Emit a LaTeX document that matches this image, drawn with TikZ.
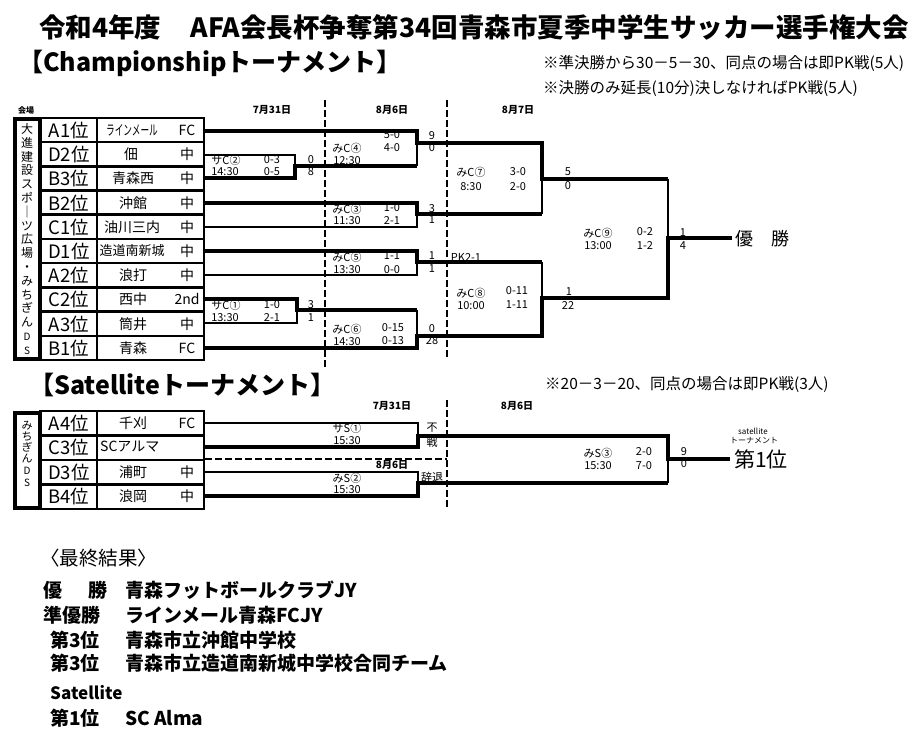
\documentclass[tikz,border=0pt]{standalone}
\usepackage{graphicx,xcolor}
\usepackage{fontspec}
\setmainfont{Noto Sans CJK JP}
\newcommand{\fsz}[1]{\fontsize{#1}{#1}\selectfont}
\tikzset{
  win/.style={line width=3.8pt},
  lose/.style={line width=1.8pt},
  grid/.style={line width=2.6pt},
  venue/.style={line width=4pt},
  dayline/.style={line width=1.3pt,dash pattern=on 7pt off 3pt},
  rank/.style={font=\fsz{18.5},inner sep=0pt},
  team/.style={font=\fsz{14},inner sep=0pt},
  game/.style={font=\fsz{11},inner sep=0pt},
  day/.style={font=\bfseries\fsz{10},inner sep=0pt},
  result/.style={font=\bfseries\fsz{19},inner sep=0pt,anchor=west},
}
\begin{document}
\begin{tikzpicture}[x=1pt,y=-1pt]
\useasboundingbox (0,0) rectangle (919,738);
% headings
\node (title) at (474,27) {\bfseries\fsz{26.5}令和4年度\hspace{1.1em}AFA会長杯争奪第34回青森市夏季中学生サッカー選手権大会};
\node [anchor=west,inner sep=0pt] (champhead) at (18,63) {\bfseries\fsz{25}【Championshipトーナメント】};
\node [anchor=west,inner sep=0pt] (note1) at (543,63) {\fsz{15.5}※準決勝から30－5－30、同点の場合は即PK戦(5人)};
\node [anchor=west,inner sep=0pt] (note2) at (543,89) {\fsz{15.5}※決勝のみ延長(10分)決しなければPK戦(5人)};
\node [day] (kaijo) at (26,110) {\fsz{8}会場};
\node [day] (d731) at (272,110) {7月31日};
\node [day] (d86) at (392,110) {8月6日};
\node [day] (d87) at (518,110) {8月7日};
\draw [dayline] (325,100) -- (325,367);
\draw [dayline] (447,100) -- (447,360);
% championship table
\draw [venue] (15,119.5) rectangle (40,359);
\node [align=center,font=\fsz{12},inner sep=0pt] (venue1) at (27,239) {大\\[1.8pt]進\\[1.8pt]建\\[1.8pt]設\\[1.8pt]ス\\[1.8pt]ポ\\[1.8pt]｜\\[1.8pt]ツ\\[1.8pt]広\\[1.8pt]場\\[1.8pt]・\\[1.8pt]み\\[1.8pt]ち\\[1.8pt]ぎ\\[1.8pt]ん\\[1.8pt]{\fsz{10}D}\\[1.8pt]{\fsz{10}S}};
\draw [grid] (40,118) rectangle (204,360);
\draw [grid] (97,118) -- (97,360);
\foreach \k in {1,...,9} \draw [grid] (40,{118+24.2*\k}) -- (204,{118+24.2*\k});
\node [rank] (ra1) at (69,130) {A1位};
\node [rank] (rd2) at (69,154) {D2位};
\node [rank] (rb3) at (69,178) {B3位};
\node [rank] (rb2) at (69,203) {B2位};
\node [rank] (rc1) at (69,227) {C1位};
\node [rank] (rd1) at (69,251) {D1位};
\node [rank] (ra2) at (69,275) {A2位};
\node [rank] (rc2) at (69,299) {C2位};
\node [rank] (ra3) at (69,324) {A3位};
\node [rank] (rb1) at (69,348) {B1位};
\node [team] (ta1) at (132,130) {\scalebox{0.62}[1]{ラインメール}};
\node [team] (td2) at (131,154) {佃};
\node [team] (tb3) at (133,178) {青森西};
\node [team] (tb2) at (133,203) {沖館};
\node [team] (tc1) at (132,227) {油川三内};
\node [team] (td1) at (132,251) {\fsz{13}造道南新城};
\node [team] (ta2) at (133,275) {浪打};
\node [team] (tc2) at (133,299) {西中};
\node [team] (ta3) at (133,324) {筒井};
\node [team] (tb1) at (133,348) {青森};
\node [team] (ka1) at (187,130) {FC};
\node [team] (kd2) at (187,154) {中};
\node [team] (kb3) at (187,178) {中};
\node [team] (kb2) at (187,203) {中};
\node [team] (kc1) at (187,227) {中};
\node [team] (kd1) at (187,251) {中};
\node [team] (ka2) at (187,275) {中};
\node [team] (kc2) at (187,299) {2nd};
\node [team] (ka3) at (187,324) {中};
\node [team] (kb1) at (187,348) {FC};
% first round
\draw [lose] (204,155) -- (295,155) -- (295,166);
\draw [win] (204,178) -- (295,178) -- (295,166) -- (417,166);
\draw [win] (204,299) -- (297,299) -- (297,310) -- (417,310);
\draw [lose] (204,323) -- (297,323) -- (297,310);
\node [game] (sc2a) at (226,160) {サC②};
\node [game] (sc2b) at (225,172) {14:30};
\node [game] (sc2c) at (272,160) {0-3};
\node [game] (sc2d) at (272,172) {0-5};
\node [game] (sc2e) at (311,160) {0};
\node [game] (sc2f) at (311,172) {8};
\node [game] (sc1a) at (226,305) {サC①};
\node [game] (sc1b) at (225,318) {13:30};
\node [game] (sc1c) at (272,305) {1-0};
\node [game] (sc1d) at (272,318) {2-1};
\node [game] (sc1e) at (311,305) {3};
\node [game] (sc1f) at (311,318) {1};
% second round
\draw [win] (204,131) -- (417,131) -- (417,143) -- (542,143) -- (542,179) -- (668,179);
\draw [lose] (417,143) -- (417,166);
\draw [win] (204,203) -- (417,203) -- (417,214) -- (542,214);
\draw [lose] (204,227) -- (417,227) -- (417,214);
\draw [lose] (542,179) -- (542,214);
\draw [win] (204,251) -- (417,251) -- (417,262) -- (542,262);
\draw [lose] (204,275) -- (417,275) -- (417,262);
\draw [lose] (417,310) -- (417,336);
\draw [win] (204,348) -- (417,348) -- (417,336) -- (542,336) -- (542,298) -- (668,298) -- (668,238) -- (732,238);
\draw [lose] (542,262) -- (542,298);
\draw [lose] (668,179) -- (668,238);
\node [game] (mc4a) at (347,148) {みC④};
\node [game] (mc4b) at (347,161) {12:30};
\node [game] (mc4c) at (392,135) {5-0};
\node [game] (mc4d) at (392,148) {4-0};
\node [game] (mc4e) at (432,136) {9};
\node [game] (mc4f) at (432,148) {0};
\node [game] (mc3a) at (347,209) {みC③};
\node [game] (mc3b) at (347,221) {11:30};
\node [game] (mc3c) at (392,208) {1-0};
\node [game] (mc3d) at (392,221) {2-1};
\node [game] (mc3e) at (432,209) {3};
\node [game] (mc3f) at (432,220) {1};
\node [game] (mc5a) at (347,257) {みC⑤};
\node [game] (mc5b) at (347,270) {13:30};
\node [game] (mc5c) at (392,256) {1-1};
\node [game] (mc5d) at (392,270) {0-0};
\node [game] (mc5e) at (432,256) {1};
\node [game] (mc5f) at (432,269) {1};
\node [game] (mc5g) at (466,257) {PK2-1};
\node [game] (mc6a) at (347,329) {みC⑥};
\node [game] (mc6b) at (347,342) {14:30};
\node [game] (mc6c) at (393,328) {0-15};
\node [game] (mc6d) at (393,341) {0-13};
\node [game] (mc6e) at (432,329) {0};
\node [game] (mc6f) at (432,341) {28};
% semifinals and final
\node [game] (mc7a) at (471,172) {みC⑦};
\node [game] (mc7b) at (471,187) {8:30};
\node [game] (mc7c) at (518,172) {3-0};
\node [game] (mc7d) at (518,187) {2-0};
\node [game] (mc7e) at (568,172) {5};
\node [game] (mc7f) at (568,186) {0};
\node [game] (mc8a) at (471,293) {みC⑧};
\node [game] (mc8b) at (471,306) {10:00};
\node [game] (mc8c) at (517,291) {0-11};
\node [game] (mc8d) at (517,305) {1-11};
\node [game] (mc8e) at (569,292) {1};
\node [game] (mc8f) at (568,306) {22};
\node [game] (mc9a) at (598,233) {みC⑨};
\node [game] (mc9b) at (598,246) {13:00};
\node [game] (mc9c) at (645,232) {0-2};
\node [game] (mc9d) at (645,246) {1-2};
\node [game] (mc9e) at (683,233) {1};
\node [game] (mc9f) at (683,246) {4};
\node [inner sep=0pt,font=\fsz{18}] (champ) at (762,239) {優　勝};
% satellite
\node [anchor=west,inner sep=0pt] (sathead) at (29,385) {\bfseries\fsz{25}【Satelliteトーナメント】};
\node [anchor=west,inner sep=0pt] (note3) at (545,385) {\fsz{15.5}※20－3－20、同点の場合は即PK戦(3人)};
\node [day] (s731) at (392,406) {7月31日};
\node [day] (s86a) at (517,406) {8月6日};
\node [day] (s86b) at (392,465) {8月6日};
\draw [dayline] (447,400) -- (447,508);
\draw [dayline] (205,459) -- (447,459);
\draw [venue] (15,412.5) rectangle (40,508);
\node [align=center,font=\fsz{11},inner sep=0pt] (venue2) at (27,454) {み\\[0pt]ち\\[0pt]ぎ\\[0pt]ん\\[1pt]{\fsz{10}D}\\[1pt]{\fsz{10}S}};
\draw [grid] (40,411) rectangle (204,509);
\draw [grid] (97,411) -- (97,509);
\foreach \k in {1,2,3} \draw [grid] (40,{411+24.5*\k}) -- (204,{411+24.5*\k});
\node [rank] (ra4) at (69,423) {A4位};
\node [rank] (rc3) at (69,447) {C3位};
\node [rank] (rd3) at (69,472) {D3位};
\node [rank] (rb4) at (69,496) {B4位};
\node [team] (ta4) at (133,423) {千刈};
\node [team,anchor=west] (tc3) at (100,447) {SCアルマ};
\node [team] (td3) at (133,472) {浦町};
\node [team] (tb4) at (133,496) {浪岡};
\node [team] (ka4) at (187,423) {FC};
\node [team] (kd3) at (187,472) {中};
\node [team] (kb4) at (187,496) {中};
\draw [lose] (204,423) -- (418,423) -- (418,436);
\draw [win] (204,447) -- (418,447) -- (418,436) -- (668,436) -- (668,459) -- (730,459);
\draw [lose] (204,472) -- (418,472) -- (418,483);
\draw [win] (204,496) -- (418,496) -- (418,483) -- (668,483);
\draw [lose] (668,483) -- (668,459);
\node [game] (ss1a) at (347,428) {サS①};
\node [game] (ss1b) at (347,441) {15:30};
\node [game] (ss1c) at (432,428) {不};
\node [game] (ss1d) at (432,442) {戦};
\node [game] (ms2a) at (347,478) {みS②};
\node [game] (ms2b) at (347,490) {15:30};
\node [game] (ms2c) at (432,477) {辞退};
\node [game] (ms3a) at (598,453) {みS③};
\node [game] (ms3b) at (598,466) {15:30};
\node [game] (ms3c) at (644,452) {2-0};
\node [game] (ms3d) at (644,466) {7-0};
\node [game] (ms3e) at (684,452) {9};
\node [game] (ms3f) at (684,464) {0};
\node [game,font=\fsz{8}] (satlbl) at (753,431) {satellite};
\node [game,font=\fsz{8}] (satlbl2) at (754,441) {トーナメント};
\node [inner sep=0pt,font=\fsz{21}] (satwin) at (761,459) {第1位};
% final results
\node [inner sep=0pt,anchor=west,font=\fsz{19.5}] (res0) at (40,558) {〈最終結果〉};
\node [result] (res1a) at (43,590) {優};
\node [result] (res1b) at (88,590) {勝};
\node [result] (res1c) at (125,590) {青森フットボールクラブJY};
\node [result] (res2a) at (43,615) {準優勝};
\node [result] (res2c) at (125,615) {ラインメール青森FCJY};
\node [result] (res3a) at (50,640) {第3位};
\node [result] (res3c) at (125,640) {青森市立沖館中学校};
\node [result] (res4a) at (50,663) {第3位};
\node [result] (res4c) at (125,663) {青森市立造道南新城中学校合同チーム};
\node [result,font=\bfseries\fsz{17}] (res5a) at (50,693) {Satellite};
\node [result] (res6a) at (50,718) {第1位};
\node [result] (res6c) at (125,718) {SC Alma};
\end{tikzpicture}
\end{document}
